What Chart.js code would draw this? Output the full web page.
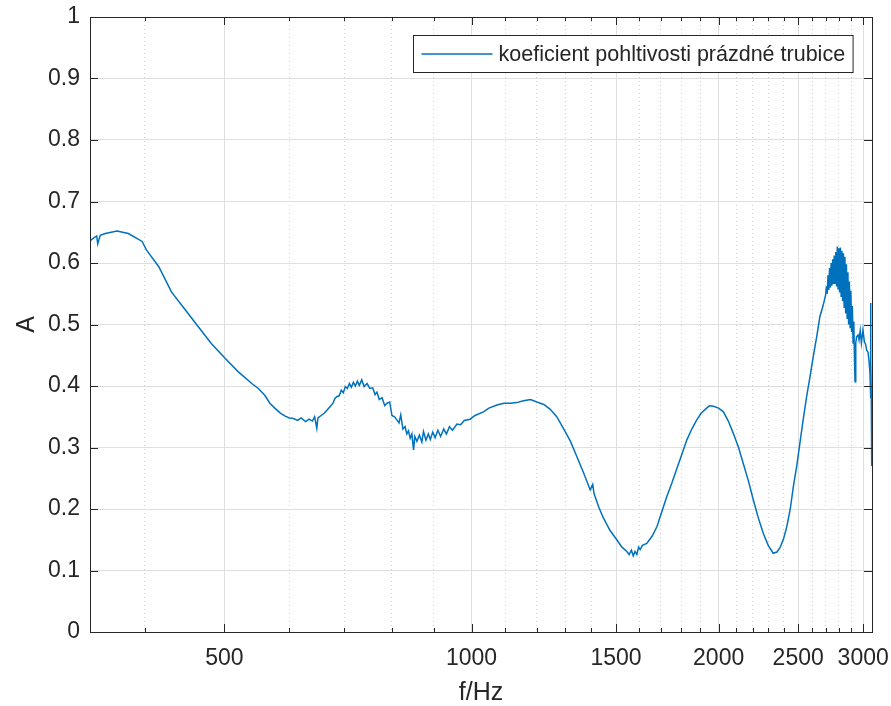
<!DOCTYPE html>
<html>
<head>
<meta charset="utf-8">
<script src="https://cdn.jsdelivr.net/npm/chart.js@4/dist/chart.umd.min.js"></script>
<style>
  html, body { margin: 0; padding: 0; background: #fff; }
  #wrap { width: 891px; height: 706px; }
</style>
</head>
<body>
<div id="wrap"><canvas id="graf" width="891" height="706"></canvas></div>
<script>
// hodnoty (f v Hz, A bez jednotky)
const frekvence = [343, 346, 349.5, 350.5, 353, 358, 370, 382, 397, 402, 416, 431, 448, 465, 482, 501, 520, 540, 550, 560,
  568, 576, 585, 593, 600, 607, 614, 620, 628, 634, 640, 644, 648, 650, 656, 662, 667, 672, 678, 682,
  686, 690, 694, 698, 702, 706, 710, 714, 718, 722, 726, 730, 735, 740, 746, 752, 758, 763, 767, 772,
  778, 784, 789, 795, 800, 806, 811, 816, 820, 825, 830, 834, 838, 842, 846, 850, 853, 858, 864, 870,
  874, 880, 886, 891, 897, 903, 910, 917, 925, 932, 940, 948, 960, 970, 980, 996, 1010, 1034, 1050, 1074,
  1095, 1115, 1135, 1157, 1180, 1201, 1225, 1247, 1270, 1294, 1320, 1344, 1370, 1395, 1405, 1410, 1430, 1448, 1475, 1503,
  1525, 1546, 1556, 1566, 1574, 1582, 1590, 1598, 1605, 1615, 1635, 1660, 1682, 1705, 1729, 1755, 1779, 1805, 1829, 1855,
  1881, 1905, 1934, 1950, 1971, 2000, 2027, 2055, 2084, 2115, 2143, 2175, 2204, 2235, 2267, 2300, 2331, 2355, 2376, 2400,
  2421, 2445, 2466, 2490, 2512, 2535, 2560, 2585, 2608, 2633, 2657, 2680, 2700, 2706, 2712, 2718, 2724, 2730, 2736, 2742,
  2748, 2754, 2760, 2766, 2772, 2778, 2784, 2790, 2796, 2802, 2808, 2814, 2820, 2826, 2832, 2838, 2844, 2850, 2856, 2862,
  2868, 2874, 2880, 2886, 2892, 2898, 2904, 2910, 2916, 2922, 2928, 2932, 2938, 2945, 2957, 2965, 2975, 2985, 2998, 3010,
  3020, 3030, 3041, 3050, 3058, 3062, 3064, 3066, 3069, 3071, 3074];
const pohltivost = [0.636, 0.640, 0.644, 0.631, 0.645, 0.648, 0.652, 0.648, 0.635, 0.621, 0.594, 0.553, 0.524, 0.496, 0.469, 0.445, 0.423, 0.404, 0.396, 0.385,
  0.372, 0.364, 0.356, 0.351, 0.348, 0.347, 0.344, 0.348, 0.342, 0.346, 0.343, 0.350, 0.331, 0.348, 0.352, 0.356, 0.361, 0.366, 0.372, 0.380,
  0.383, 0.384, 0.393, 0.389, 0.399, 0.396, 0.404, 0.398, 0.406, 0.400, 0.408, 0.401, 0.410, 0.399, 0.404, 0.396, 0.397, 0.386, 0.390, 0.378,
  0.381, 0.368, 0.372, 0.374, 0.352, 0.350, 0.345, 0.340, 0.353, 0.330, 0.334, 0.322, 0.327, 0.315, 0.322, 0.296, 0.318, 0.310, 0.320, 0.309,
  0.326, 0.312, 0.322, 0.313, 0.325, 0.316, 0.328, 0.318, 0.330, 0.322, 0.334, 0.328, 0.338, 0.337, 0.344, 0.346, 0.352, 0.358, 0.364, 0.369,
  0.372, 0.372, 0.373, 0.376, 0.378, 0.374, 0.370, 0.362, 0.350, 0.331, 0.310, 0.285, 0.258, 0.231, 0.240, 0.225, 0.202, 0.185, 0.165, 0.150,
  0.138, 0.131, 0.126, 0.133, 0.124, 0.131, 0.126, 0.138, 0.134, 0.141, 0.144, 0.156, 0.171, 0.195, 0.220, 0.243, 0.266, 0.290, 0.312, 0.330,
  0.345, 0.356, 0.364, 0.368, 0.367, 0.364, 0.358, 0.343, 0.323, 0.300, 0.274, 0.245, 0.215, 0.186, 0.160, 0.140, 0.128, 0.130, 0.137, 0.152,
  0.171, 0.200, 0.236, 0.270, 0.307, 0.345, 0.383, 0.416, 0.448, 0.480, 0.513, 0.530, 0.548, 0.562, 0.550, 0.580, 0.556, 0.592, 0.560, 0.600,
  0.563, 0.606, 0.566, 0.612, 0.567, 0.618, 0.562, 0.627, 0.558, 0.624, 0.552, 0.625, 0.546, 0.620, 0.538, 0.616, 0.528, 0.610, 0.518, 0.598,
  0.510, 0.585, 0.500, 0.570, 0.495, 0.555, 0.488, 0.530, 0.470, 0.505, 0.440, 0.407, 0.470, 0.480, 0.483, 0.475, 0.490, 0.470, 0.491, 0.472,
  0.468, 0.458, 0.455, 0.440, 0.420, 0.380, 0.535, 0.440, 0.380, 0.320, 0.270];

const hlavniTicky = [500, 1000, 1500, 2000, 2500, 3000];
const vedlejsiTicky = [400, 600, 700, 800, 900, 1100, 1200, 1300, 1400, 1600, 1700, 1800, 1900,
  2100, 2200, 2300, 2400, 2600, 2700, 2800, 2900];
const fMin = 343;
const fMax = 3075;

const barvaOsy = "#262626";
const pismo = "'Liberation Sans', Arial, sans-serif";

// bez automatického odsazení kvůli přečnívajícím popiskům
function bezOdsazeni(s) {
  s.paddingLeft = 0;
  s.paddingRight = 0;
  s.paddingTop = 0;
  s.paddingBottom = 0;
}

// rámeček a tiky dovnitř jako v MATLABu + legenda s rámečkem
const matlabBox = {
  id: "matlabBox",
  afterDraw(chart) {
    const ctx = chart.ctx;
    const a = chart.chartArea;
    const sx = chart.scales.x;
    const sy = chart.scales.y;
    ctx.save();
    ctx.strokeStyle = barvaOsy;
    ctx.lineWidth = 1;
    ctx.beginPath();
    hlavniTicky.forEach(v => {
      const px = Math.round(sx.getPixelForValue(v)) + 0.5;
      ctx.moveTo(px, a.bottom); ctx.lineTo(px, a.bottom - 8);
      ctx.moveTo(px, a.top); ctx.lineTo(px, a.top + 8);
    });
    vedlejsiTicky.forEach(v => {
      const px = Math.round(sx.getPixelForValue(v)) + 0.5;
      ctx.moveTo(px, a.bottom); ctx.lineTo(px, a.bottom - 4);
      ctx.moveTo(px, a.top); ctx.lineTo(px, a.top + 4);
    });
    sy.ticks.forEach(t => {
      const py = Math.round(sy.getPixelForValue(t.value)) + 0.5;
      ctx.moveTo(a.left, py); ctx.lineTo(a.left + 8, py);
      ctx.moveTo(a.right, py); ctx.lineTo(a.right - 8, py);
    });
    ctx.stroke();
    ctx.strokeRect(Math.round(a.left) + 0.5, Math.round(a.top) + 0.5,
      Math.round(a.right - a.left), Math.round(a.bottom - a.top));

    // legenda
    const ds = chart.data.datasets[0];
    ctx.font = "21.5px " + pismo;
    const tw = ctx.measureText(ds.label).width;
    const w = 8 + 71 + 6 + tw + 8;
    const h = 37;
    const x0 = Math.round(a.right - 19 - w) + 0.5;
    const y0 = Math.round(a.top + 18) + 0.5;
    ctx.fillStyle = "#fff";
    ctx.fillRect(x0, y0, w, h);
    ctx.strokeStyle = barvaOsy;
    ctx.strokeRect(x0, y0, w, h);
    ctx.strokeStyle = ds.borderColor;
    ctx.lineWidth = 1.3;
    ctx.beginPath();
    ctx.moveTo(x0 + 8, y0 + h / 2);
    ctx.lineTo(x0 + 79, y0 + h / 2);
    ctx.stroke();
    ctx.fillStyle = barvaOsy;
    ctx.textBaseline = "middle";
    ctx.fillText(ds.label, x0 + 85, y0 + h / 2 + 1);
    ctx.restore();
  }
};

const body = frekvence.map((f, i) => ({ x: f, y: pohltivost[i] }));

new Chart(document.getElementById("graf"), {
  type: "line",
  data: {
    datasets: [{
      label: "koeficient pohltivosti prázdné trubice",
      data: body,
      borderColor: "#0072BD",
      borderWidth: 1.5,
      pointRadius: 0,
      tension: 0,
      fill: false
    }]
  },
  options: {
    responsive: false,
    animation: false,
    devicePixelRatio: 1,
    layout: { padding: { top: 17, right: 19, left: 0, bottom: 0 } },
    plugins: {
      legend: { display: false },
      tooltip: { enabled: false }
    },
    scales: {
      x: {
        type: "logarithmic",
        position: "bottom",
        min: fMin,
        max: fMax,
        afterBuildTicks: s => { s.ticks = hlavniTicky.map(v => ({ value: v })); },
        afterFit: s => { s.height = 74; bezOdsazeni(s); },
        ticks: {
          autoSkip: false,
          maxRotation: 0,
          padding: 13,
          color: barvaOsy,
          font: { family: pismo, size: 23 },
          callback: v => String(v)
        },
        grid: { color: "#dfdfdf", lineWidth: 1, drawTicks: false },
        border: { display: false },
        title: {
          display: true,
          text: "f/Hz",
          color: barvaOsy,
          font: { family: pismo, size: 25, lineHeight: 1.0 },
          padding: { top: 0, bottom: 0 }
        }
      },
      xm: {
        type: "logarithmic",
        position: "top",
        min: fMin,
        max: fMax,
        afterBuildTicks: s => { s.ticks = vedlejsiTicky.map(v => ({ value: v })); },
        afterFit: s => { s.height = 0; bezOdsazeni(s); },
        ticks: { display: false },
        grid: { color: "#cfcfcf", lineWidth: 1, drawTicks: false, borderDash: [1, 3] },
        border: { display: false, dash: [1, 3] }
      },
      y: {
        min: 0,
        max: 1,
        afterFit: s => { s.width = 90; bezOdsazeni(s); },
        ticks: {
          stepSize: 0.1,
          padding: 10,
          color: barvaOsy,
          font: { family: pismo, size: 23 },
          callback: v => String(Number(v.toFixed(1)))
        },
        grid: { color: "#dfdfdf", lineWidth: 1, drawTicks: false },
        border: { display: false },
        title: {
          display: true,
          text: "A",
          color: barvaOsy,
          font: { family: pismo, size: 25 },
          padding: { top: 12, bottom: 0 }
        }
      }
    }
  },
  plugins: [matlabBox]
});
</script>
</body>
</html>
